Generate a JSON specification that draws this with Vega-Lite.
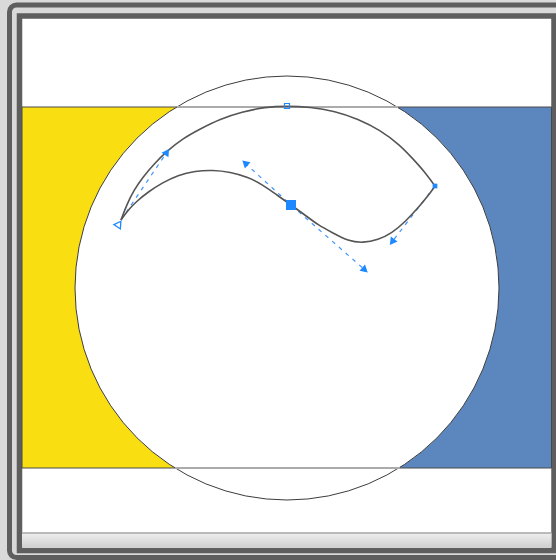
{
  "$schema": "https://vega.github.io/schema/vega-lite/v6.json",
  "width": 556,
  "height": 560,
  "padding": 0,
  "autosize": "none",
  "background": "#d9d9d9",
  "view": {"stroke": null},
  "datasets": {
    "outer": [{"x": 9.5, "x2": 580, "y": 5, "y2": 557.5}],
    "inner": [{"x": 19.5, "x2": 554, "y": 16, "y2": 550.5}],
    "band": [{"x": 22, "x2": 551.5, "y": 533, "y2": 547.5}],
    "bandline": [{"x": 22, "x2": 551.5, "y": 533}],
    "panels": [
      {"name": "yellow", "x": 22, "x2": 290, "y": 107, "y2": 468},
      {"name": "blue", "x": 290, "x2": 551.5, "y": 107, "y2": 468}
    ],
    "circle": [{"x": 287, "y": 288}],
    "rules": [
      {"x": 177, "x2": 398, "y": 107},
      {"x": 175, "x2": 400, "y": 468}
    ],
    "curve": [
      {"seg": "A", "i": 0, "x": 121, "y": 220},
      {"seg": "A", "i": 1, "x": 127, "y": 204},
      {"seg": "A", "i": 2, "x": 134, "y": 190},
      {"seg": "A", "i": 3, "x": 143, "y": 177},
      {"seg": "A", "i": 4, "x": 154, "y": 164},
      {"seg": "A", "i": 5, "x": 167, "y": 151},
      {"seg": "A", "i": 6, "x": 182, "y": 139},
      {"seg": "A", "i": 7, "x": 200, "y": 129},
      {"seg": "A", "i": 8, "x": 220, "y": 119},
      {"seg": "A", "i": 9, "x": 242, "y": 112},
      {"seg": "A", "i": 10, "x": 265, "y": 107},
      {"seg": "A", "i": 11, "x": 287, "y": 106},
      {"seg": "A", "i": 12, "x": 310, "y": 107},
      {"seg": "A", "i": 13, "x": 335, "y": 111},
      {"seg": "A", "i": 14, "x": 358, "y": 119},
      {"seg": "A", "i": 15, "x": 380, "y": 130},
      {"seg": "A", "i": 16, "x": 400, "y": 145},
      {"seg": "A", "i": 17, "x": 413, "y": 159},
      {"seg": "A", "i": 18, "x": 424, "y": 171},
      {"seg": "A", "i": 19, "x": 435, "y": 186},
      {"seg": "B", "i": 0, "x": 435, "y": 186},
      {"seg": "B", "i": 1, "x": 428, "y": 196},
      {"seg": "B", "i": 2, "x": 418, "y": 208},
      {"seg": "B", "i": 3, "x": 405, "y": 222},
      {"seg": "B", "i": 4, "x": 392, "y": 233},
      {"seg": "B", "i": 5, "x": 378, "y": 240},
      {"seg": "B", "i": 6, "x": 363, "y": 243},
      {"seg": "B", "i": 7, "x": 348, "y": 241},
      {"seg": "B", "i": 8, "x": 333, "y": 233},
      {"seg": "B", "i": 9, "x": 318, "y": 225},
      {"seg": "B", "i": 10, "x": 305, "y": 215},
      {"seg": "B", "i": 11, "x": 291, "y": 205},
      {"seg": "B", "i": 12, "x": 277, "y": 195},
      {"seg": "B", "i": 13, "x": 263, "y": 185},
      {"seg": "B", "i": 14, "x": 248, "y": 177},
      {"seg": "B", "i": 15, "x": 230, "y": 172},
      {"seg": "B", "i": 16, "x": 213, "y": 170},
      {"seg": "B", "i": 17, "x": 195, "y": 171},
      {"seg": "B", "i": 18, "x": 178, "y": 175},
      {"seg": "B", "i": 19, "x": 162, "y": 183},
      {"seg": "B", "i": 20, "x": 148, "y": 192},
      {"seg": "B", "i": 21, "x": 137, "y": 201},
      {"seg": "B", "i": 22, "x": 128, "y": 210},
      {"seg": "B", "i": 23, "x": 121, "y": 220}
    ],
    "handles": [
      {"h": "h1", "i": 0, "x": 121, "y": 220},
      {"h": "h1", "i": 1, "x": 167, "y": 152},
      {"h": "h2", "i": 0, "x": 245, "y": 163},
      {"h": "h2", "i": 1, "x": 291, "y": 205},
      {"h": "h2", "i": 2, "x": 365, "y": 270},
      {"h": "h3", "i": 0, "x": 435, "y": 186},
      {"h": "h3", "i": 1, "x": 392, "y": 242}
    ],
    "tips": [
      {"x": 167, "y": 152, "dir": 34},
      {"x": 245, "y": 163, "dir": 312},
      {"x": 365, "y": 270, "dir": 131},
      {"x": 392, "y": 242, "dir": 217}
    ],
    "opentip": [{"x": 119, "y": 224, "dir": 34}],
    "bignode": [{"x": 291, "y": 205}],
    "smallnodes": [{"x": 435, "y": 186}],
    "opennodes": [{"x": 287, "y": 106}]
  },
  "encoding": {
    "x": {"field": "x", "type": "quantitative", "scale": {"domain": [0, 556], "nice": false, "zero": false}, "axis": null},
    "y": {"field": "y", "type": "quantitative", "scale": {"domain": [0, 560], "nice": false, "zero": false, "reverse": true}, "axis": null}
  },
  "layer": [
    {
      "data": {"name": "outer"},
      "mark": {"type": "rect", "fill": "#d9d9d9", "stroke": "#5e5e5e", "strokeWidth": 5, "cornerRadius": 7},
      "encoding": {"x2": {"field": "x2"}, "y2": {"field": "y2"}}
    },
    {
      "data": {"name": "inner"},
      "mark": {"type": "rect", "fill": "#ffffff", "stroke": "#5e5e5e", "strokeWidth": 5.5},
      "encoding": {"x2": {"field": "x2"}, "y2": {"field": "y2"}}
    },
    {
      "data": {"name": "band"},
      "mark": {"type": "rect", "fill": {"gradient": "linear", "x1": 0, "y1": 0, "x2": 0, "y2": 1, "stops": [{"offset": 0, "color": "#efefef"}, {"offset": 1, "color": "#cfcfcf"}]}},
      "encoding": {"x2": {"field": "x2"}, "y2": {"field": "y2"}}
    },
    {
      "data": {"name": "bandline"},
      "mark": {"type": "rule", "stroke": "#a6a6a6", "strokeWidth": 1.5},
      "encoding": {"x2": {"field": "x2"}}
    },
    {
      "data": {"name": "panels"},
      "mark": {"type": "rect", "stroke": "#4a4a4a", "strokeWidth": 1},
      "encoding": {
        "x2": {"field": "x2"},
        "y2": {"field": "y2"},
        "fill": {"field": "name", "type": "nominal", "scale": {"domain": ["yellow", "blue"], "range": ["#f9df12", "#5b86be"]}, "legend": null}
      }
    },
    {
      "data": {"name": "circle"},
      "mark": {"type": "point", "shape": "circle", "size": 179776, "fill": "#ffffff", "stroke": "#3c3c3c", "strokeWidth": 1, "opacity": 1, "fillOpacity": 1, "filled": false}
    },
    {
      "data": {"name": "rules"},
      "mark": {"type": "rule", "stroke": "#ababab", "strokeWidth": 2},
      "encoding": {"x2": {"field": "x2"}}
    },
    {
      "data": {"name": "handles"},
      "mark": {"type": "line", "stroke": "#3d95ff", "strokeWidth": 1.2, "strokeDash": [4, 5]},
      "encoding": {
        "detail": {"field": "h", "type": "nominal"},
        "order": {"field": "i", "type": "quantitative"}
      }
    },
    {
      "data": {"name": "curve"},
      "mark": {"type": "line", "stroke": "#555555", "strokeWidth": 1.6, "interpolate": "basis"},
      "encoding": {
        "detail": {"field": "seg", "type": "nominal"},
        "order": {"field": "i", "type": "quantitative"}
      }
    },
    {
      "data": {"name": "tips"},
      "mark": {"type": "point", "shape": "triangle-up", "size": 70, "filled": true, "fill": "#1e88ff", "opacity": 1},
      "encoding": {"angle": {"field": "dir", "type": "quantitative", "scale": null}}
    },
    {
      "data": {"name": "opentip"},
      "mark": {"type": "point", "shape": "triangle-up", "size": 60, "filled": false, "stroke": "#1e88ff", "strokeWidth": 1.3, "opacity": 1},
      "encoding": {"angle": {"field": "dir", "type": "quantitative", "scale": null}}
    },
    {
      "data": {"name": "bignode"},
      "mark": {"type": "point", "shape": "square", "size": 100, "filled": true, "fill": "#1e88ff", "opacity": 1}
    },
    {
      "data": {"name": "smallnodes"},
      "mark": {"type": "point", "shape": "square", "size": 22, "filled": true, "fill": "#1e88ff", "opacity": 1}
    },
    {
      "data": {"name": "opennodes"},
      "mark": {"type": "point", "shape": "square", "size": 25, "filled": false, "stroke": "#1e88ff", "strokeWidth": 1.2, "opacity": 1}
    }
  ]
}
